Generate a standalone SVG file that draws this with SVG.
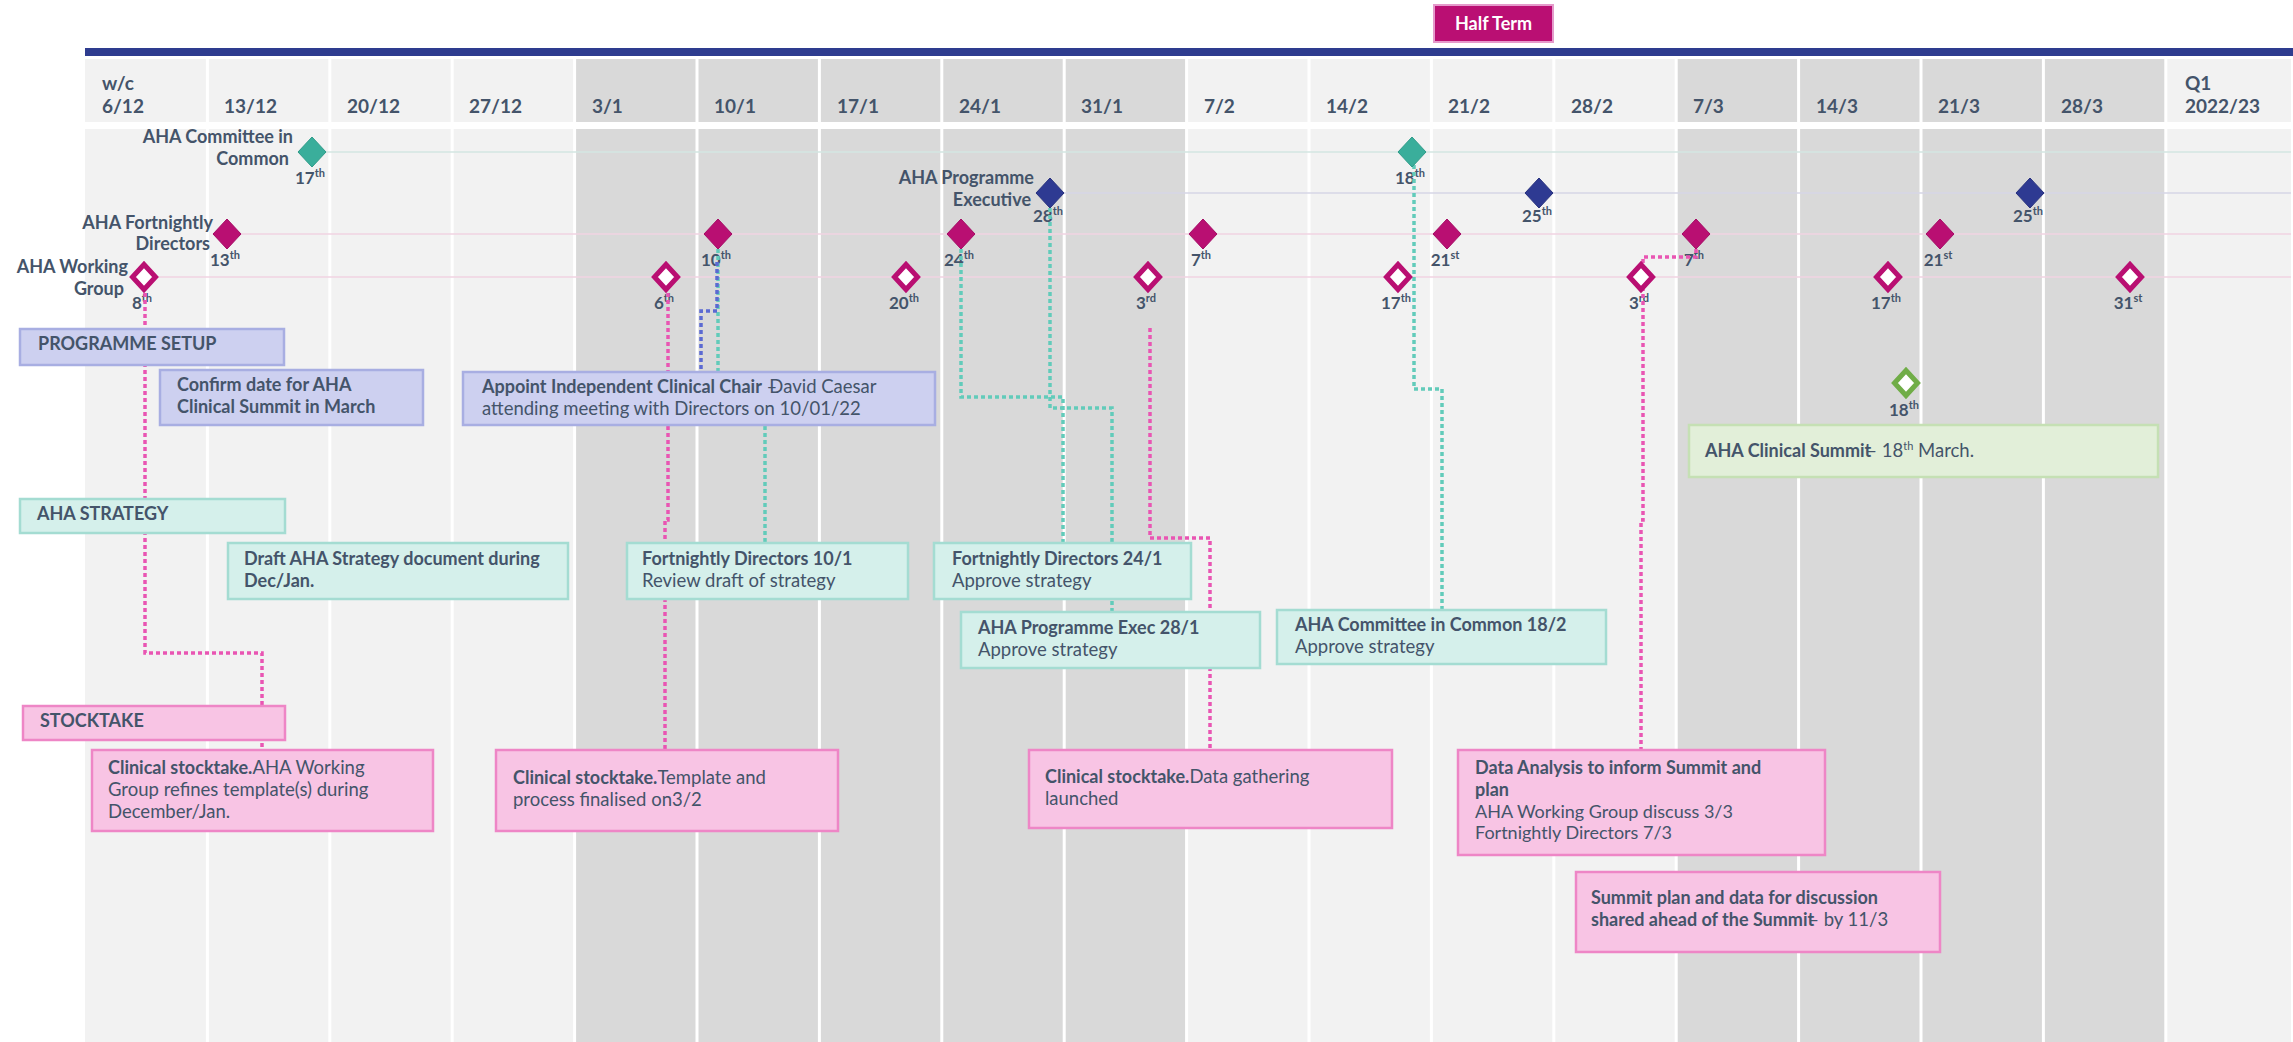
<svg xmlns="http://www.w3.org/2000/svg" width="2293" height="1042" viewBox="0 0 2293 1042">
<defs>
<style>
text{font-family:Lato,"Liberation Sans",sans-serif;fill:#44546A;}
.hd{font-size:19px;font-weight:700;}
.rl{font-size:18px;font-weight:700;}
.bt{font-size:18px;}
.nt{font-size:18.5px;}
.b{font-weight:700;}
.dl{font-size:17px;font-weight:700;}
.sup{font-size:11px;}
.lav{fill:#CDD0F0;stroke:#A8AEE2;stroke-width:2.5;}
.mint{fill:#D5F0EB;stroke:#A4DCD2;stroke-width:2.5;}
.pink{fill:#F8C4E4;stroke:#EE86C6;stroke-width:2.5;}
.grn{fill:#E2EFD9;stroke:#C5E0B4;stroke-width:2.5;}
.conn{fill:none;stroke-width:3.5;stroke-dasharray:4 3;}
.cp{stroke:#E955B3;}
.ct{stroke:#62CBBA;}
.cb{stroke:#5B6AD2;}
.teal{fill:#3AAE9B;stroke:#2F9C89;stroke-width:1;}
.blue{fill:#2E3A92;stroke:#27317E;stroke-width:1;}
.mag{fill:#B90F72;stroke:#A50C65;stroke-width:1;}
.hol{fill:#FFFFFF;stroke:#B90F72;stroke-width:5;}
.holg{fill:#FFFFFF;stroke:#70AD47;stroke-width:5;}
</style>
<path id="dF" d="M0,-15 L14,0 L0,15 L-14,0Z"/>
<path id="dH" d="M0,-12.5 L11.5,0 L0,12.5 L-11.5,0Z"/>
</defs>

<!-- background grid -->
<g id="grid">
<rect x="85" y="59" width="2206" height="63" fill="#F2F2F2"/>
<rect x="85" y="129" width="2206" height="913" fill="#F2F2F2"/>
<rect x="574.6" y="59" width="612" height="63" fill="#D9D9D9"/>
<rect x="574.6" y="129" width="612" height="913" fill="#D9D9D9"/>
<rect x="1676.2" y="59" width="489.6" height="63" fill="#D9D9D9"/>
<rect x="1676.2" y="129" width="489.6" height="913" fill="#D9D9D9"/>
<g stroke="#FFFFFF" stroke-width="3">
<line x1="207.4" y1="59" x2="207.4" y2="1042"/>
<line x1="329.8" y1="59" x2="329.8" y2="1042"/>
<line x1="452.2" y1="59" x2="452.2" y2="1042"/>
<line x1="574.6" y1="59" x2="574.6" y2="1042"/>
<line x1="697" y1="59" x2="697" y2="1042"/>
<line x1="819.4" y1="59" x2="819.4" y2="1042"/>
<line x1="941.8" y1="59" x2="941.8" y2="1042"/>
<line x1="1064.2" y1="59" x2="1064.2" y2="1042"/>
<line x1="1186.6" y1="59" x2="1186.6" y2="1042"/>
<line x1="1309" y1="59" x2="1309" y2="1042"/>
<line x1="1431.4" y1="59" x2="1431.4" y2="1042"/>
<line x1="1553.8" y1="59" x2="1553.8" y2="1042"/>
<line x1="1676.2" y1="59" x2="1676.2" y2="1042"/>
<line x1="1798.6" y1="59" x2="1798.6" y2="1042"/>
<line x1="1921" y1="59" x2="1921" y2="1042"/>
<line x1="2043.4" y1="59" x2="2043.4" y2="1042"/>
<line x1="2165.8" y1="59" x2="2165.8" y2="1042"/>
</g>
<rect x="85" y="122" width="2208" height="7" fill="#FFFFFF"/>
<rect x="85" y="48" width="2208" height="8" fill="#2E3C8F"/>
<line x1="300" y1="152" x2="2291" y2="152" stroke="#D3E6E2" stroke-width="1.5"/>
<line x1="1050" y1="193" x2="2291" y2="193" stroke="#D6D6E6" stroke-width="1.5"/>
<line x1="220" y1="234" x2="2291" y2="234" stroke="#F0D3E2" stroke-width="1.5"/>
<line x1="135" y1="277" x2="2291" y2="277" stroke="#F0D3E2" stroke-width="1.5"/>
</g>

<!-- header labels -->
<g id="header">
<text class="hd" x="102" y="90">w/c</text>
<text class="hd" x="102" y="113">6/12</text>
<text class="hd" x="224" y="113">13/12</text>
<text class="hd" x="347" y="113">20/12</text>
<text class="hd" x="469" y="113">27/12</text>
<text class="hd" x="592" y="113">3/1</text>
<text class="hd" x="714" y="113">10/1</text>
<text class="hd" x="837" y="113">17/1</text>
<text class="hd" x="959" y="113">24/1</text>
<text class="hd" x="1081" y="113">31/1</text>
<text class="hd" x="1204" y="113">7/2</text>
<text class="hd" x="1326" y="113">14/2</text>
<text class="hd" x="1448" y="113">21/2</text>
<text class="hd" x="1571" y="113">28/2</text>
<text class="hd" x="1693" y="113">7/3</text>
<text class="hd" x="1816" y="113">14/3</text>
<text class="hd" x="1938" y="113">21/3</text>
<text class="hd" x="2061" y="113">28/3</text>
<text class="hd" x="2185" y="90">Q1</text>
<text class="hd" x="2185" y="113">2022/23</text>
</g>

<g id="half-term">
<rect x="1434" y="5" width="119" height="37" fill="#BA0F73" stroke="#E59ACB" stroke-width="2"/>
<text x="1493.5" y="29.5" text-anchor="middle" style="fill:#FFFFFF;font-size:18px;font-weight:700;">Half Term</text>
</g>

<!-- row labels -->
<g id="row-labels">
<text class="rl" x="293" y="143" text-anchor="end">AHA Committee in</text>
<text class="rl" x="289" y="165" text-anchor="end">Common</text>
<text class="rl" x="1034" y="184" text-anchor="end">AHA Programme</text>
<text class="rl" x="1031" y="206" text-anchor="end">Executive</text>
<text class="rl" x="213" y="229" text-anchor="end">AHA Fortnightly</text>
<text class="rl" x="210" y="250" text-anchor="end">Directors</text>
<text class="rl" x="128" y="273" text-anchor="end">AHA Working</text>
<text class="rl" x="124" y="295" text-anchor="end">Group</text>
</g>

<!-- date labels -->
<g id="date-labels">
<text class="dl" x="310" y="184" text-anchor="middle">17<tspan class="sup" dy="-7">th</tspan></text>
<text class="dl" x="1410" y="184" text-anchor="middle">18<tspan class="sup" dy="-7">th</tspan></text>
<text class="dl" x="1048" y="222" text-anchor="middle">28<tspan class="sup" dy="-7">th</tspan></text>
<text class="dl" x="1537" y="222" text-anchor="middle">25<tspan class="sup" dy="-7">th</tspan></text>
<text class="dl" x="2028" y="222" text-anchor="middle">25<tspan class="sup" dy="-7">th</tspan></text>
<text class="dl" x="225" y="266" text-anchor="middle">13<tspan class="sup" dy="-7">th</tspan></text>
<text class="dl" x="716" y="266" text-anchor="middle">10<tspan class="sup" dy="-7">th</tspan></text>
<text class="dl" x="959" y="266" text-anchor="middle">24<tspan class="sup" dy="-7">th</tspan></text>
<text class="dl" x="1201" y="266" text-anchor="middle">7<tspan class="sup" dy="-7">th</tspan></text>
<text class="dl" x="1445" y="266" text-anchor="middle">21<tspan class="sup" dy="-7">st</tspan></text>
<text class="dl" x="1694" y="266" text-anchor="middle">7<tspan class="sup" dy="-7">th</tspan></text>
<text class="dl" x="1938" y="266" text-anchor="middle">21<tspan class="sup" dy="-7">st</tspan></text>
<text class="dl" x="142" y="309" text-anchor="middle">8<tspan class="sup" dy="-7">th</tspan></text>
<text class="dl" x="664" y="309" text-anchor="middle">6<tspan class="sup" dy="-7">th</tspan></text>
<text class="dl" x="904" y="309" text-anchor="middle">20<tspan class="sup" dy="-7">th</tspan></text>
<text class="dl" x="1146" y="309" text-anchor="middle">3<tspan class="sup" dy="-7">rd</tspan></text>
<text class="dl" x="1396" y="309" text-anchor="middle">17<tspan class="sup" dy="-7">th</tspan></text>
<text class="dl" x="1639" y="309" text-anchor="middle">3<tspan class="sup" dy="-7">rd</tspan></text>
<text class="dl" x="1886" y="309" text-anchor="middle">17<tspan class="sup" dy="-7">th</tspan></text>
<text class="dl" x="2128" y="309" text-anchor="middle">31<tspan class="sup" dy="-7">st</tspan></text>
<text class="dl" x="1904" y="416" text-anchor="middle">18<tspan class="sup" dy="-7">th</tspan></text>
</g>

<!-- connectors -->
<g id="connectors">
<path class="conn cp" d="M145,293 V653 H262 V750"/>
<path class="conn cp" d="M668,293 V520 H665 V750"/>
<path class="conn cp" d="M1150,328 V538 H1210 V750"/>
<path class="conn cp" d="M1696,249 V257 H1643 V520 H1641 V750"/>
<path class="conn ct" d="M718,249 V400 H765 V543"/>
<path class="conn cb" d="M717,262 V311 H701 V372"/>
<path class="conn ct" d="M961,249 V397 H1063 V543"/>
<path class="conn ct" d="M1050,208 V408 H1112 V612"/>
<path class="conn ct" d="M1414,165 V389 H1442 V610"/>
</g>

<!-- boxes -->
<g id="programme-setup">
<rect class="lav" x="20" y="329" width="264" height="36"/>
<text class="bt b" x="38" y="350">PROGRAMME SETUP</text>
</g>
<g id="confirm-date">
<rect class="lav" x="160" y="370" width="263" height="55"/>
<text class="bt b" x="177" y="391">Confirm date for AHA</text>
<text class="bt b" x="177" y="413">Clinical Summit in March</text>
</g>
<g id="appoint-chair">
<rect class="lav" x="463" y="372" width="472" height="53"/>
<text class="bt" x="482" y="393"><tspan class="b">Appoint Independent Clinical Chair</tspan><tspan class="nt"> –</tspan><tspan class="nt" dx="-8">David Caesar</tspan></text>
<text class="nt" x="482" y="415">attending meeting with Directors on 10/01/22</text>
</g>
<g id="aha-strategy">
<rect class="mint" x="20" y="499" width="265" height="34"/>
<text class="bt b" x="37" y="520">AHA STRATEGY</text>
</g>
<g id="draft-strategy">
<rect class="mint" x="228" y="543" width="340" height="56"/>
<text class="bt b" x="244" y="565">Draft AHA Strategy document during</text>
<text class="bt b" x="244" y="587">Dec/Jan.</text>
</g>
<g id="fd-10-1">
<rect class="mint" x="627" y="543" width="281" height="56"/>
<text class="bt b" x="642" y="565">Fortnightly Directors 10/1</text>
<text class="nt" x="642" y="587">Review draft of strategy</text>
</g>
<g id="fd-24-1">
<rect class="mint" x="934" y="543" width="257" height="56"/>
<text class="bt b" x="952" y="565">Fortnightly Directors 24/1</text>
<text class="nt" x="952" y="587">Approve strategy</text>
</g>
<g id="exec-28-1">
<rect class="mint" x="961" y="612" width="299" height="56"/>
<text class="bt b" x="978" y="634">AHA Programme Exec 28/1</text>
<text class="nt" x="978" y="656">Approve strategy</text>
</g>
<g id="cic-18-2">
<rect class="mint" x="1277" y="610" width="329" height="54"/>
<text class="bt b" x="1295" y="631">AHA Committee in Common 18/2</text>
<text class="nt" x="1295" y="653">Approve strategy</text>
</g>
<g id="clinical-summit">
<rect class="grn" x="1689" y="425" width="469" height="52"/>
<text class="bt" x="1705" y="457"><tspan class="b">AHA Clinical Summit</tspan><tspan class="nt" dx="-5">– 18</tspan><tspan class="sup" dy="-7">th</tspan><tspan class="nt" dy="7"> March.</tspan></text>
</g>
<g id="stocktake">
<rect class="pink" x="23" y="706" width="262" height="34"/>
<text class="bt b" x="40" y="727">STOCKTAKE</text>
</g>
<g id="stocktake-1">
<rect class="pink" x="92" y="750" width="341" height="81"/>
<text class="nt" x="108" y="774"><tspan class="b bt">Clinical stocktake.</tspan>AHA Working</text>
<text class="nt" x="108" y="796">Group refines template(s) during</text>
<text class="nt" x="108" y="818">December/Jan.</text>
</g>
<g id="stocktake-2">
<rect class="pink" x="496" y="750" width="342" height="81"/>
<text class="nt" x="513" y="784"><tspan class="b bt">Clinical stocktake.</tspan>Template and</text>
<text class="nt" x="513" y="806">process finalised on3/2</text>
</g>
<g id="stocktake-3">
<rect class="pink" x="1029" y="750" width="363" height="78"/>
<text class="nt" x="1045" y="783"><tspan class="b bt">Clinical stocktake.</tspan>Data gathering</text>
<text class="nt" x="1045" y="805">launched</text>
</g>
<g id="data-analysis">
<rect class="pink" x="1458" y="750" width="367" height="105"/>
<text class="bt b" x="1475" y="774">Data Analysis to inform Summit and</text>
<text class="bt b" x="1475" y="796">plan</text>
<text class="bt" x="1475" y="818">AHA Working Group discuss 3/3</text>
<text class="bt" x="1475" y="839">Fortnightly Directors 7/3</text>
</g>
<g id="summit-plan">
<rect class="pink" x="1576" y="872" width="364" height="80"/>
<text class="bt b" x="1591" y="904">Summit plan and data for discussion</text>
<text class="bt" x="1591" y="926"><tspan class="b">shared ahead of the Summit</tspan><tspan class="nt" dx="-6">– by 11/3</tspan></text>
</g>

<!-- milestone diamonds -->
<g id="committee-in-common">
<use href="#dF" class="teal" x="312" y="152"/>
<use href="#dF" class="teal" x="1412" y="152"/>
</g>
<g id="programme-executive">
<use href="#dF" class="blue" x="1050" y="193"/>
<use href="#dF" class="blue" x="1539" y="193"/>
<use href="#dF" class="blue" x="2030" y="193"/>
</g>
<g id="fortnightly-directors">
<use href="#dF" class="mag" x="227" y="234"/>
<use href="#dF" class="mag" x="718" y="234"/>
<use href="#dF" class="mag" x="961" y="234"/>
<use href="#dF" class="mag" x="1203" y="234"/>
<use href="#dF" class="mag" x="1447" y="234"/>
<use href="#dF" class="mag" x="1696" y="234"/>
<use href="#dF" class="mag" x="1940" y="234"/>
</g>
<g id="working-group">
<use href="#dH" class="hol" x="144" y="277"/>
<use href="#dH" class="hol" x="666" y="277"/>
<use href="#dH" class="hol" x="906" y="277"/>
<use href="#dH" class="hol" x="1148" y="277"/>
<use href="#dH" class="hol" x="1398" y="277"/>
<use href="#dH" class="hol" x="1641" y="277"/>
<use href="#dH" class="hol" x="1888" y="277"/>
<use href="#dH" class="hol" x="2130" y="277"/>
</g>
<g id="summit-milestone">
<use href="#dH" class="holg" x="1906" y="383"/>
</g>
</svg>
